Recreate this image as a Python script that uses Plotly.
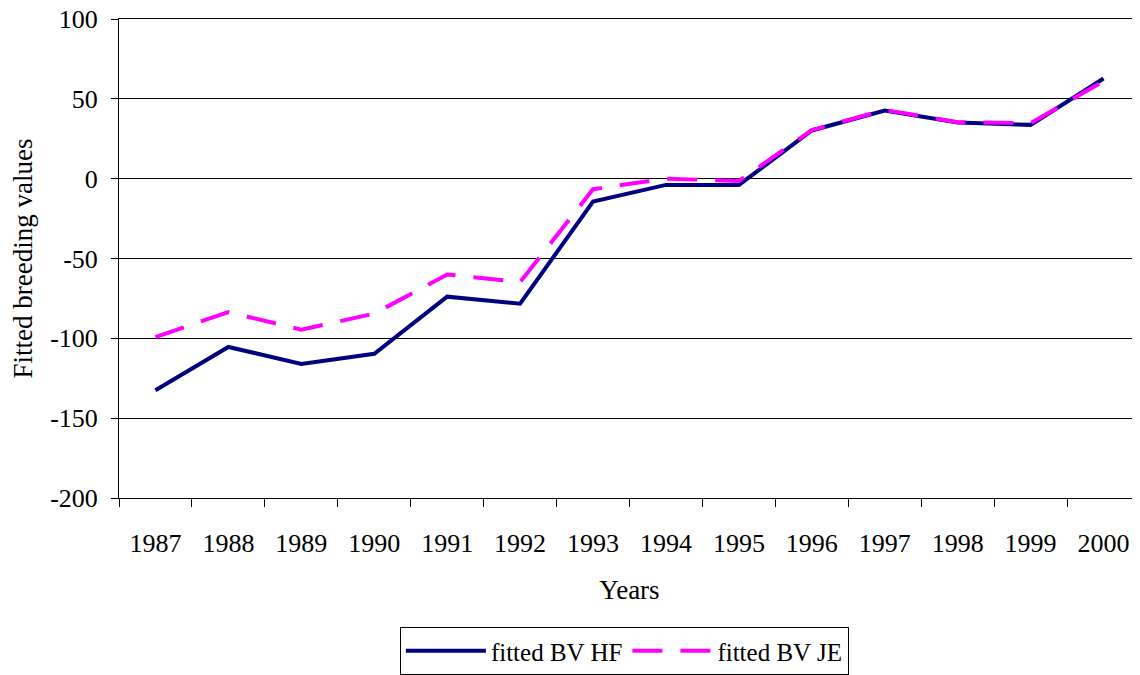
import plotly.graph_objects as go

years = ["1987", "1988", "1989", "1990", "1991", "1992", "1993",
         "1994", "1995", "1996", "1997", "1998", "1999", "2000"]
bv_hf = [-132.5, -105.4, -116.0, -109.7, -73.9, -78.3, -14.3,
         -3.9, -3.9, 30.2, 42.7, 35.2, 33.7, 62.7]
bv_je = [-99.2, -83.5, -94.6, -84.5, -60.0, -64.8, -6.6,
         0.0, -1.4, 30.4, 43.0, 35.4, 34.8, 61.0]
y_ticks = [-200, -150, -100, -50, 0, 50, 100]

FONT = "Liberation Serif, Times New Roman, serif"

fig = go.Figure()
fig.add_trace(go.Scatter(x=years, y=bv_hf, mode="lines", name="fitted BV HF",
                         line=dict(color="#000080", width=4)))
fig.add_trace(go.Scatter(x=years, y=bv_je, mode="lines", name="fitted BV JE",
                         line=dict(color="#FF00FF", width=4, dash="30px,18px")))

fig.update_layout(
    width=1132, height=667,
    margin=dict(l=111, r=0, t=11, b=172),
    paper_bgcolor="white", plot_bgcolor="white",
    font=dict(family=FONT, size=26, color="black"),
    showlegend=True,
    legend=dict(orientation="h", x=0.495, xanchor="center", y=-0.27, yanchor="top",
                bordercolor="black", borderwidth=1, font=dict(size=25),
                itemwidth=80, tracegroupgap=0),
    xaxis=dict(
        type="category", range=[-0.5, 13.5], automargin=False,
        showgrid=False, showline=True, linecolor="black", linewidth=1, mirror=True,
        ticks="outside", ticklen=8, tickcolor="black", tickson="boundaries",
        tickfont=dict(size=26), ticklabelstandoff=22,
        title=dict(text="Years", font=dict(size=27), standoff=22),
    ),
    yaxis=dict(
        range=[-200, 100], tickvals=y_ticks, ticktext=[str(v) for v in y_ticks],
        automargin=False, ticklabeloverflow="allow",
        showgrid=True, gridcolor="black", gridwidth=1, zeroline=False,
        showline=True, linecolor="black", linewidth=1,
        ticks="outside", ticklen=7, tickcolor="black",
        tickfont=dict(size=26), ticklabelstandoff=8,
        title=dict(text="Fitted breeding values", font=dict(size=27), standoff=14),
    ),
)

fig.write_html("out.html")
